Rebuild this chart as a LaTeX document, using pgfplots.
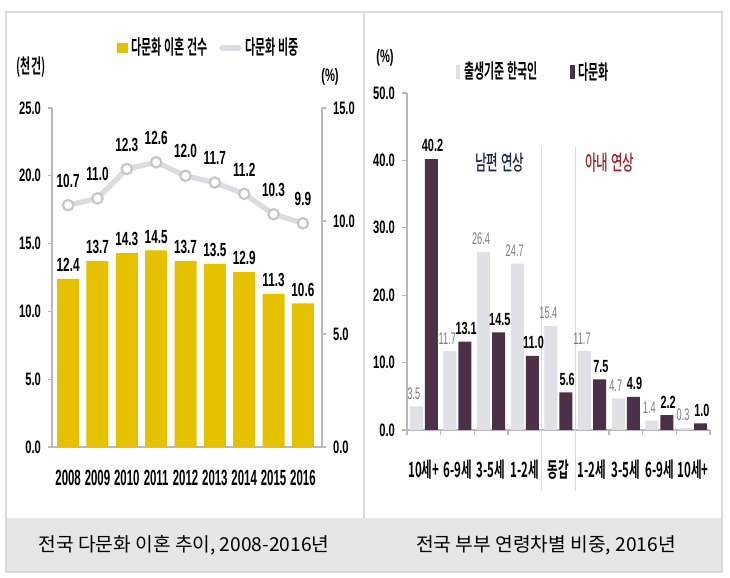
\documentclass[border=0pt]{standalone}
\usepackage{pgfplots}
\pgfplotsset{compat=1.18}
\usepackage{fontspec}
\setmainfont{Liberation Sans}
\newfontfamily\numf[FakeStretch=0.62]{Liberation Sans Bold}
\newfontfamily\numy[FakeStretch=0.52]{Liberation Sans Bold}
\newfontfamily\numg[FakeStretch=0.55]{Liberation Sans}
\newfontfamily\kor[FakeStretch=0.55]{Noto Sans CJK KR Bold}
\newfontfamily\korm[FakeStretch=0.6]{Noto Sans CJK KR Medium}
\newfontfamily\korcap{Noto Sans CJK KR}
\definecolor{ybar}{RGB}{229,193,0}
\definecolor{lline}{RGB}{218,220,226}
\definecolor{lmark}{RGB}{196,198,204}
\definecolor{pbar}{RGB}{75,48,72}
\definecolor{gbar}{RGB}{224,225,230}
\definecolor{axgray}{RGB}{185,185,185}
\definecolor{frame}{RGB}{218,218,218}
\definecolor{gtext}{RGB}{125,125,125}
\definecolor{band}{RGB}{230,230,230}
\definecolor{wred}{RGB}{155,35,40}
\definecolor{hblue}{RGB}{30,40,75}
\pgfplotsset{/pgf/number format/assume math mode=true}
\begin{document}
\begin{tikzpicture}[x=1pt,y=1pt]
\useasboundingbox (0,0) rectangle (365,289);
\fill[white] (0,0) rectangle (365,289);
% caption band and panel frames
\fill[band] (3,3) rectangle (361,30);
\draw[frame, line width=0.8pt] (3,3) rectangle (361,283);
\draw[frame, line width=0.8pt] (182,30) -- (182,283);
\node[font=\korcap\fontsize{9.6}{10}\selectfont] at (92,16.5) {전국 다문화 이혼 추이, 2008-2016년};
\node[font=\korcap\fontsize{9.6}{10}\selectfont] at (273,16.5) {전국 부부 연령차별 비중, 2016년};

% ---------------- left panel: bars ----------------
\begin{axis}[
  at={(26pt,65.5pt)}, anchor=south west, scale only axis,
  width=135pt, height=169.5pt,
  xmin=-0.55, xmax=8.65, ymin=0, ymax=25,
  ybar, bar width=11pt,
  axis x line*=bottom, axis y line*=left,
  axis line style={axgray, line width=0.6pt},
  tick align=outside, major tick length=2pt,
  xtick={0,...,8}, xticklabels={2008,2009,2010,2011,2012,2013,2014,2015,2016},
  x tick style={draw=none},
  xticklabel style={font=\numy\fontsize{11}{11}\selectfont, yshift=-6pt},
  ytick={0,5,...,25}, y tick style={axgray, line width=0.6pt},
  yticklabel style={font=\numf\fontsize{9}{9}\selectfont, /pgf/number format/.cd, fixed, fixed zerofill, precision=1},
  nodes near coords,
  nodes near coords style={font=\numf\fontsize{9.5}{9.5}\selectfont, black, /pgf/number format/.cd, fixed, fixed zerofill, precision=1},
  clip=false,
  legend style={at={(0.585,1.177)}, anchor=center, draw=none, fill=none,
    legend columns=2, font=\kor\fontsize{10}{10}\selectfont,
    /tikz/every even column/.append style={column sep=4pt}},
]
\addplot[fill=ybar, draw=none,
  legend image code/.code={\fill[ybar] (0pt,-2.6pt) rectangle (5.2pt,2.6pt);}]
  coordinates {(0,12.4)(1,13.7)(2,14.3)(3,14.5)(4,13.7)(5,13.5)(6,12.9)(7,11.3)(8,10.6)};
\addlegendentry{다문화 이혼 건수}
\addlegendimage{legend image code/.code={\draw[lline, line width=3pt, line cap=round] (0pt,0pt) -- (8pt,0pt);}}
\addlegendentry{다문화 비중}
\end{axis}

% ---------------- left panel: line (right axis) ----------------
\begin{axis}[
  at={(26pt,65.5pt)}, anchor=south west, scale only axis,
  width=135pt, height=169.5pt,
  xmin=-0.55, xmax=8.65, ymin=0, ymax=15,
  axis x line=none, axis y line*=right,
  axis line style={axgray, line width=0.6pt},
  tick align=outside, major tick length=2pt,
  ytick={0,5,10,15}, y tick style={axgray, line width=0.6pt},
  yticklabel style={font=\numf\fontsize{9}{9}\selectfont, /pgf/number format/.cd, fixed, fixed zerofill, precision=1},
  clip=false,
]
\addplot[lline, line width=2.6pt, mark=*, mark size=2.6pt,
  mark options={fill=white, draw=lmark, line width=1.1pt},
  nodes near coords,
  nodes near coords style={font=\numf\fontsize{9.5}{9.5}\selectfont, black, anchor=south, yshift=5pt,
     /pgf/number format/.cd, fixed, fixed zerofill, precision=1}]
  coordinates {(0,10.7)(1,11.0)(2,12.3)(3,12.6)(4,12.0)(5,11.7)(6,11.2)(7,10.3)(8,9.9)};
\end{axis}
\node[font=\kor\fontsize{10}{10}\selectfont] at (15.5,255.5) {(천건)};
\node[font=\numf\fontsize{9}{9}\selectfont] at (165,250.5) {(\%)};

% ---------------- right panel ----------------
\begin{axis}[
  at={(203.5pt,74pt)}, anchor=south west, scale only axis,
  width=151.5pt, height=168.5pt,
  xmin=-0.5, xmax=8.5, ymin=0, ymax=50,
  ybar=1pt, bar width=6.5pt,
  axis x line*=bottom, axis y line*=left,
  axis line style={axgray, line width=0.6pt},
  tick align=outside, major tick length=2.5pt,
  xtick={-0.5,0.5,...,8.5},
  xticklabels={10세+,6-9세,3-5세,1-2세,동갑,1-2세,3-5세,6-9세,10세+,{}},
  x tick style={axgray, line width=0.6pt},
  xticklabel style={font=\kor\fontsize{10.5}{10.5}\selectfont, xshift=8.42pt, yshift=-9pt},
  ytick={0,10,...,50}, y tick style={axgray, line width=0.6pt},
  yticklabel style={font=\numf\fontsize{9}{9}\selectfont, /pgf/number format/.cd, fixed, fixed zerofill, precision=1},
  clip=false,
  legend style={at={(0.42,1.062)}, anchor=center, draw=none, fill=none,
    legend columns=2, font=\kor\fontsize{10}{10}\selectfont,
    /tikz/every even column/.append style={column sep=14pt}},
]
\draw[frame, line width=0.5pt] (axis cs:3.5,42) -- (axis cs:3.5,-9);
\draw[frame, line width=0.5pt] (axis cs:4.5,42) -- (axis cs:4.5,-9);
\addplot[fill=gbar, draw=none,
  legend image code/.code={\fill[gbar] (0pt,-3.2pt) rectangle (2.4pt,3.6pt);},
  nodes near coords,
  nodes near coords style={font=\numg\fontsize{8.4}{8.4}\selectfont, gtext, inner xsep=0pt, xshift=-1.3pt, /pgf/number format/.cd, fixed, fixed zerofill, precision=1}]
  coordinates {(0,3.5)(1,11.7)(2,26.4)(3,24.7)(4,15.4)(5,11.7)(6,4.7)(7,1.4)(8,0.3)};
\addlegendentry{출생기준 한국인}
\addplot[fill=pbar, draw=none,
  legend image code/.code={\fill[pbar] (0pt,-3.2pt) rectangle (2.4pt,3.6pt);},
  nodes near coords,
  nodes near coords style={font=\numf\fontsize{8.8}{8.8}\selectfont, black, inner xsep=0pt, xshift=0.6pt, /pgf/number format/.cd, fixed, fixed zerofill, precision=1}]
  coordinates {(0,40.2)(1,13.1)(2,14.5)(3,11.0)(4,5.6)(5,7.5)(6,4.9)(7,2.2)(8,1.0)};
\addlegendentry{다문화}
\end{axis}
\node[font=\numf\fontsize{9}{9}\selectfont] at (192.5,260) {(\%)};
\node[font=\korm\fontsize{10.5}{10.5}\selectfont, hblue] at (250,207.5) {남편 연상};
\node[font=\korm\fontsize{10.5}{10.5}\selectfont, wred] at (305,207.5) {아내 연상};
\end{tikzpicture}
\end{document}
